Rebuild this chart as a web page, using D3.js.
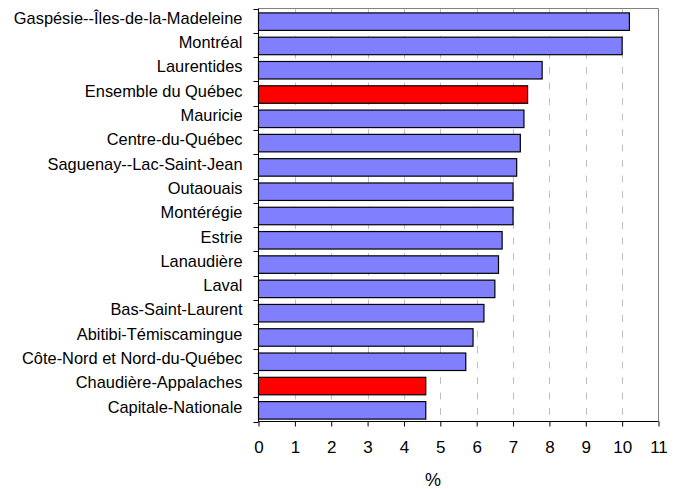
<!DOCTYPE html>
<html>
<head>
<meta charset="utf-8">
<script src="https://cdn.jsdelivr.net/npm/d3@7/dist/d3.min.js"></script>
<style>
  html, body { margin: 0; padding: 0; background: #fff; }
  svg { display: block; }
  text { font-family: "Liberation Sans", Arial, sans-serif; fill: #000; }
</style>
</head>
<body>
<svg id="chart" width="678" height="489"></svg>
<script>
const categories = [
  "Gaspésie--Îles-de-la-Madeleine", "Montréal", "Laurentides", "Ensemble du Québec",
  "Mauricie", "Centre-du-Québec", "Saguenay--Lac-Saint-Jean", "Outaouais",
  "Montérégie", "Estrie", "Lanaudière", "Laval", "Bas-Saint-Laurent",
  "Abitibi-Témiscamingue", "Côte-Nord et Nord-du-Québec", "Chaudière-Appalaches",
  "Capitale-Nationale"
];
const values = [10.2, 10.0, 7.8, 7.4, 7.3, 7.2, 7.1, 7.0, 7.0, 6.7, 6.6, 6.5, 6.2, 5.9, 5.7, 4.6, 4.6];
const highlighted = ["Ensemble du Québec", "Chaudière-Appalaches"];
const xTicks = [0, 1, 2, 3, 4, 5, 6, 7, 8, 9, 10, 11];
const xLabel = "%";

(function () {
const svg = d3.select("#chart");
const pL = 258.5, pR = 658.5, pT = 8.5, pB = 421.5;

const x = d3.scaleLinear().domain([0, 11]).range([pL, pR]);
const y = d3.scaleBand().domain(categories).range([pT, pB]).paddingInner(0.28).paddingOuter(0.14);

// Grid lines (dashed, drawn from bottom up)
svg.append("g").selectAll("line").data(xTicks.slice(1, -1)).join("line")
  .attr("x1", d => Math.round(x(d)) + 0.5).attr("x2", d => Math.round(x(d)) + 0.5)
  .attr("y1", pB).attr("y2", pT)
  .attr("stroke", "#c0c0c0").attr("stroke-width", 1)
  .attr("stroke-dasharray", "7,8.5").attr("stroke-dashoffset", 9);

// Plot border (top, right)
svg.append("path")
  .attr("d", `M${pL},${pT}H${pR}V${pB}`)
  .attr("fill", "none").attr("stroke", "#808080").attr("stroke-width", 1);

// Bars
svg.append("g").selectAll("rect").data(categories).join("rect")
  .attr("x", pL)
  .attr("y", d => y(d) + 1)
  .attr("width", (d, i) => x(values[i]) - x(0))
  .attr("height", y.bandwidth())
  .attr("fill", d => highlighted.includes(d) ? "#FF0000" : "#8080FF")
  .attr("stroke", "#000").attr("stroke-width", 1.2);

// Y axis: labels
const yAxis = d3.axisLeft(y).tickSize(0).tickPadding(16);
const gy = svg.append("g").attr("transform", `translate(${pL},-2)`).call(yAxis);
gy.select(".domain").remove();
gy.selectAll("text").style("font-size", "16.4px").style("font-family", '"Liberation Sans", Arial, sans-serif');

// Y axis line and boundary ticks
const bounds = d3.range(categories.length + 1).map(i => pT + i * (pB - pT) / categories.length);
svg.append("line").attr("x1", pL).attr("x2", pL).attr("y1", pT).attr("y2", pB).attr("stroke", "#000");
svg.append("g").selectAll("line").data(bounds).join("line")
  .attr("x1", pL - 5).attr("x2", pL).attr("y1", d => Math.round(d) + 0.5).attr("y2", d => Math.round(d) + 0.5)
  .attr("stroke", "#000");

// X axis
const xAxis = d3.axisBottom(x).tickValues(xTicks).tickSize(5).tickPadding(14).tickFormat(d3.format("d"));
const gx = svg.append("g").attr("transform", `translate(0,${pB})`).call(xAxis);
gx.select(".domain").attr("stroke", "#000").attr("d", `M${pL},0H${pR}`);
gx.selectAll(".tick line").attr("stroke", "#000");
gx.selectAll("text").style("font-size", "17px").style("font-family", '"Liberation Sans", Arial, sans-serif');

svg.append("text").attr("x", 433).attr("y", 486).attr("text-anchor", "middle")
  .style("font-size", "18px").text(xLabel);
})();
</script>
</body>
</html>
